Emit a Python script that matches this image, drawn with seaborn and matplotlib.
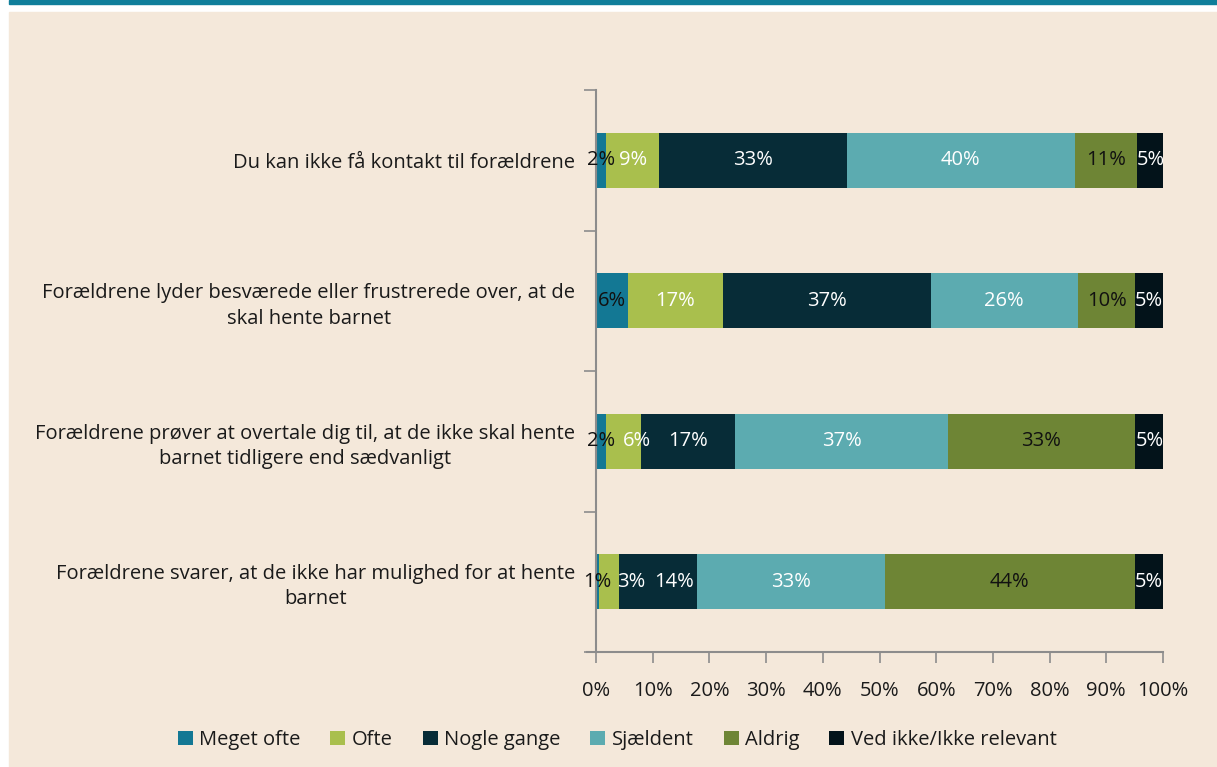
import numpy as np
import pandas as pd
import matplotlib.pyplot as plt
import seaborn as sns
from matplotlib.patches import Rectangle
from matplotlib.ticker import FixedLocator, PercentFormatter

# categories (top to bottom)
categories = [
    "Du kan ikke få kontakt til forældrene",
    "Forældrene lyder besværede eller frustrerede over, at de\nskal hente barnet",
    "Forældrene prøver at overtale dig til, at de ikke skal hente\nbarnet tidligere end sædvanligt",
    "Forældrene svarer, at de ikke har mulighed for at hente\nbarnet",
]

# shares in % (labels show rounded values)
meget_ofte = [1.8, 5.6, 1.8, 0.6]
ofte = [9.3, 16.8, 6.1, 3.4]
nogle_gange = [33.1, 36.6, 16.7, 13.8]
sjaeldent = [40.3, 26.0, 37.4, 33.1]
aldrig = [11.0, 10.1, 33.1, 44.1]
ved_ikke = [4.6, 4.9, 5.0, 5.0]

series_names = ["Meget ofte", "Ofte", "Nogle gange", "Sjældent", "Aldrig",
                "Ved ikke/Ikke relevant"]
series_vals = [meget_ofte, ofte, nogle_gange, sjaeldent, aldrig, ved_ikke]
colors = ["#137894", "#A9BF4D", "#072C37", "#5CABB0", "#6E8535", "#03131A"]
label_colors = ["#111111", "white", "white", "white", "#111111", "white"]

# small segments: labels pushed right a bit, like in the original
label_nudge = {(2, 1): 2.3, (3, 1): 3.9, (3, 2): 2.9}

bg = "#F4E8DA"
axis_col = "#8C8C8C"
text_col = "#1A1A1A"
fs = 14.5

plt.rcParams['font.family'] = ['Open Sans', 'DejaVu Sans']

fig = plt.figure(figsize=(12.17, 7.67), dpi=100)
fig.patch.set_facecolor("white")
# beige panel with a teal band on top
fig.patches.append(Rectangle((9 / 1217, 0), 1 - 9 / 1217, 1 - 12 / 767,
                             transform=fig.transFigure, color=bg, zorder=-2))
fig.patches.append(Rectangle((9 / 1217, 1 - 4 / 767), 1 - 9 / 1217, 4 / 767,
                             transform=fig.transFigure, color="#107E9A", zorder=-2))

ax = fig.add_axes([596 / 1217, 1 - 652 / 767, 567 / 1217, 562 / 767])
ax.set_facecolor("none")

df = pd.DataFrame({name: vals for name, vals in zip(series_names, series_vals)})
df["cat"] = categories
cum = df[series_names].cumsum(axis=1)

# draw from the full stack down so the shorter stacks sit on top
for k in range(len(series_names) - 1, -1, -1):
    sns.barplot(x=cum[series_names[k]], y=df["cat"], orient="h",
                color=colors[k], width=0.39, ax=ax, saturation=1,
                label=series_names[k], linewidth=0)

# data labels in segment centres
for k, name in enumerate(series_names):
    for i in range(len(categories)):
        v = df[name].iloc[i]
        xc = cum[name].iloc[i] - v / 2 + label_nudge.get((i, k), 0)
        ax.text(xc, i, f"{v:.0f}%", ha="center", va="center",
                color=label_colors[k], fontsize=fs)

ax.set_xlim(0, 100)
ax.set_ylim(3.5, -0.5)
ax.set_xlabel("")
ax.set_ylabel("")
ax.xaxis.set_major_locator(FixedLocator(np.arange(0, 101, 10)))
ax.xaxis.set_major_formatter(PercentFormatter(decimals=0))
ax.tick_params(axis="x", length=8, width=1.2, color=axis_col, labelsize=fs,
               labelcolor=text_col, pad=13)
ax.tick_params(axis="y", which="major", length=0, labelsize=fs,
               labelcolor=text_col, pad=15)
ax.set_yticks(np.arange(-0.5, 4, 1), minor=True)
ax.tick_params(axis="y", which="minor", length=9, width=1.2, color=axis_col)
for lbl in ax.get_yticklabels():
    lbl.set_multialignment("center")
    lbl.set_linespacing(1.35)

for s in ["top", "right"]:
    ax.spines[s].set_visible(False)
for s in ["left", "bottom"]:
    ax.spines[s].set_color(axis_col)
    ax.spines[s].set_linewidth(1.5)
ax.spines["bottom"].set_bounds(-1.6, 100)

handles, labels = ax.get_legend_handles_labels()
order = [labels.index(n) for n in series_names]
if ax.legend_:
    ax.legend_.remove()
fig.legend([handles[j] for j in order], [labels[j] for j in order],
           loc="center", bbox_to_anchor=(0.507, 1 - 740 / 767), ncol=6,
           frameon=False, fontsize=fs, handlelength=0.75, handleheight=0.75,
           handletextpad=0.3, columnspacing=1.5, labelcolor=text_col)

fig.savefig("out.png", dpi=100, facecolor=fig.get_facecolor())
